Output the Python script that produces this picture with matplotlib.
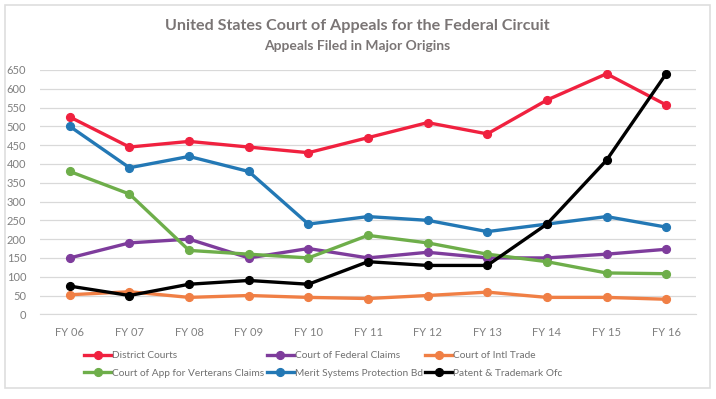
import matplotlib
matplotlib.use("Agg")
import matplotlib.pyplot as plt
from matplotlib.patches import Rectangle

categories = ["FY 06", "FY 07", "FY 08", "FY 09", "FY 10", "FY 11", "FY 12", "FY 13", "FY 14", "FY 15", "FY 16"]
district_courts = [525, 445, 460, 445, 430, 470, 510, 480, 570, 640, 557]
federal_claims = [150, 190, 200, 150, 175, 150, 165, 150, 150, 160, 173]
intl_trade = [52, 60, 45, 50, 45, 42, 50, 59, 45, 45, 40]
veterans_claims = [380, 320, 170, 160, 150, 210, 190, 160, 140, 110, 108]
merit_systems = [500, 390, 420, 380, 240, 260, 250, 220, 240, 260, 232]
patent_trademark = [75, 50, 80, 90, 80, 140, 130, 130, 240, 410, 640]
y_ticks = list(range(0, 651, 50))

series = [
    ("District Courts", district_courts, "#F0213F"),
    ("Court of Federal Claims", federal_claims, "#7E3C9C"),
    ("Court of Intl Trade", intl_trade, "#F07F45"),
    ("Court of App for Verterans Claims", veterans_claims, "#6EAE4A"),
    ("Merit Systems Protection Bd", merit_systems, "#2378B5"),
    ("Patent & Trademark Ofc", patent_trademark, "#000000"),
]

plt.rcParams['font.family'] = ['Lato', 'DejaVu Sans']

fig = plt.figure(figsize=(7.16, 3.99), dpi=100)
fig.patch.set_facecolor("white")
fig.add_artist(Rectangle((5/716, 1-388/399), 705/716, 383/399, transform=fig.transFigure,
                         fill=False, edgecolor="#DEDEDE", linewidth=1.2))

ax = fig.add_axes([40/716, 1-314.3/399, 656/716, (314.3-70)/399])
x = list(range(len(categories)))
handles = {}
for name, vals, col in series:
    h, = ax.plot(x, vals, color=col, linewidth=2.4, marker="o", markersize=5.6,
                 label=name, solid_joinstyle="round", zorder=3)
    handles[name] = h

ax.set_xlim(-0.5, len(categories) - 0.5)
ax.set_ylim(0, 650)
ax.set_yticks(y_ticks)
ax.set_xticks(x)
ax.set_xticklabels(categories)
ax.grid(axis="y", color="#D9D9D9", linewidth=0.9)
ax.set_axisbelow(True)
for s in ["left", "right", "top"]:
    ax.spines[s].set_visible(False)
ax.spines["bottom"].set_color("#D9D9D9")
ax.tick_params(axis="both", length=0, labelsize=8, colors="#7F7F7F")
ax.tick_params(axis="x", pad=9)
ax.tick_params(axis="y", pad=10)

fig.text(357/716, 1-26/399, "United States Court of Appeals for the Federal Circuit",
         ha="center", va="center", fontsize=11.6, fontweight="bold", color="#7A7575")
fig.text(357/716, 1-46/399, "Appeals Filed in Major Origins",
         ha="center", va="center", fontsize=10, fontweight="bold", color="#7A7575")

order = ["District Courts", "Court of App for Verterans Claims",
         "Court of Federal Claims", "Merit Systems Protection Bd",
         "Court of Intl Trade", "Patent & Trademark Ofc"]
leg = fig.legend([handles[n] for n in order], order, ncol=3,
                 loc="center left", bbox_to_anchor=(84/716, 1-364.5/399),
                 frameon=False, fontsize=7.3, handlelength=2.7, handletextpad=0.1,
                 columnspacing=0.2, labelspacing=0.8, borderaxespad=0, borderpad=0)
for t in leg.get_texts():
    t.set_color("#707070")

fig.savefig("out.png", dpi=100, facecolor="white")
